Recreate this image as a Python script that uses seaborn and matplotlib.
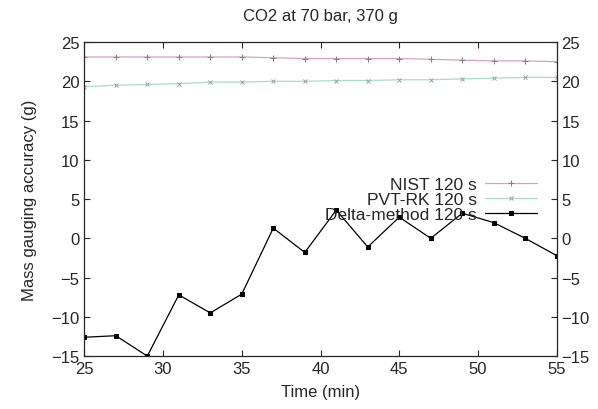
import matplotlib
matplotlib.use('Agg')
import matplotlib.pyplot as plt
import seaborn as sb
import numpy as np

# time axis (min)
time_min = [25, 27, 29, 31, 33, 35, 37, 39, 41, 43, 45, 47, 49, 51, 53, 55]

nist = [23.1, 23.1, 23.1, 23.1, 23.1, 23.1, 23.0, 22.9, 22.9, 22.9, 22.9, 22.8, 22.7, 22.6, 22.6, 22.5]
pvt_rk = [19.3, 19.5, 19.6, 19.7, 19.9, 19.9, 20.0, 20.0, 20.1, 20.1, 20.2, 20.2, 20.3, 20.4, 20.5, 20.5]
delta = [-12.6, -12.4, -15.0, -7.2, -9.5, -7.1, 1.3, -1.8, 3.6, -1.1, 2.7, 0.0, 3.2, 2.0, 0.0, -2.2]

series_names = ['NIST 120 s', 'PVT-RK 120 s', 'Delta-method 120 s']

sb.set_style('ticks')
plt.rcParams['font.family'] = ['Liberation Sans', 'DejaVu Sans']

fig = plt.figure(figsize=(5.98, 4.10), dpi=100)
ax = fig.add_axes([0.141, 0.129, 0.790, 0.766])

sb.lineplot(x=time_min, y=nist, color='#d8a0c8', marker='+', markersize=4, markeredgecolor='#808080',
            markeredgewidth=0.7, linewidth=0.9, label=series_names[0], ax=ax)
sb.lineplot(x=time_min, y=pvt_rk, color='#a8dcd0', marker='x', markersize=3, markeredgecolor='#a0a0a0',
            markeredgewidth=0.7, linewidth=0.9, label=series_names[1], ax=ax)
sb.lineplot(x=time_min, y=delta, color='black', marker='s', markersize=2.5, markeredgecolor='black',
            linewidth=0.9, label=series_names[2], ax=ax)

ax.set_xlim(25, 55)
ax.set_ylim(-15, 25)
ax.set_xticks(np.arange(25, 56, 5))
ax.set_yticks(np.arange(-15, 26, 5))
ax.tick_params(direction='in', top=True, right=True, labelright=True, labelsize=12, length=4)
for s in ax.spines.values():
    s.set_visible(True)
    s.set_linewidth(0.9)
ax.set_xlabel('Time (min)', fontsize=12, labelpad=6)
ax.set_ylabel('Mass gauging accuracy (g)', fontsize=12, labelpad=10)
ax.set_title('CO2 at 70 bar, 370 g', fontsize=12, pad=16)

leg = ax.legend(loc='upper right', bbox_to_anchor=(0.985, 0.61), frameon=False, fontsize=12.5,
                markerfirst=False, handlelength=3.0, labelspacing=0.0, borderpad=0.2, handletextpad=0.5)
for t in leg.get_texts():
    t.set_ha('right')

fig.savefig('out.png', dpi=100)
